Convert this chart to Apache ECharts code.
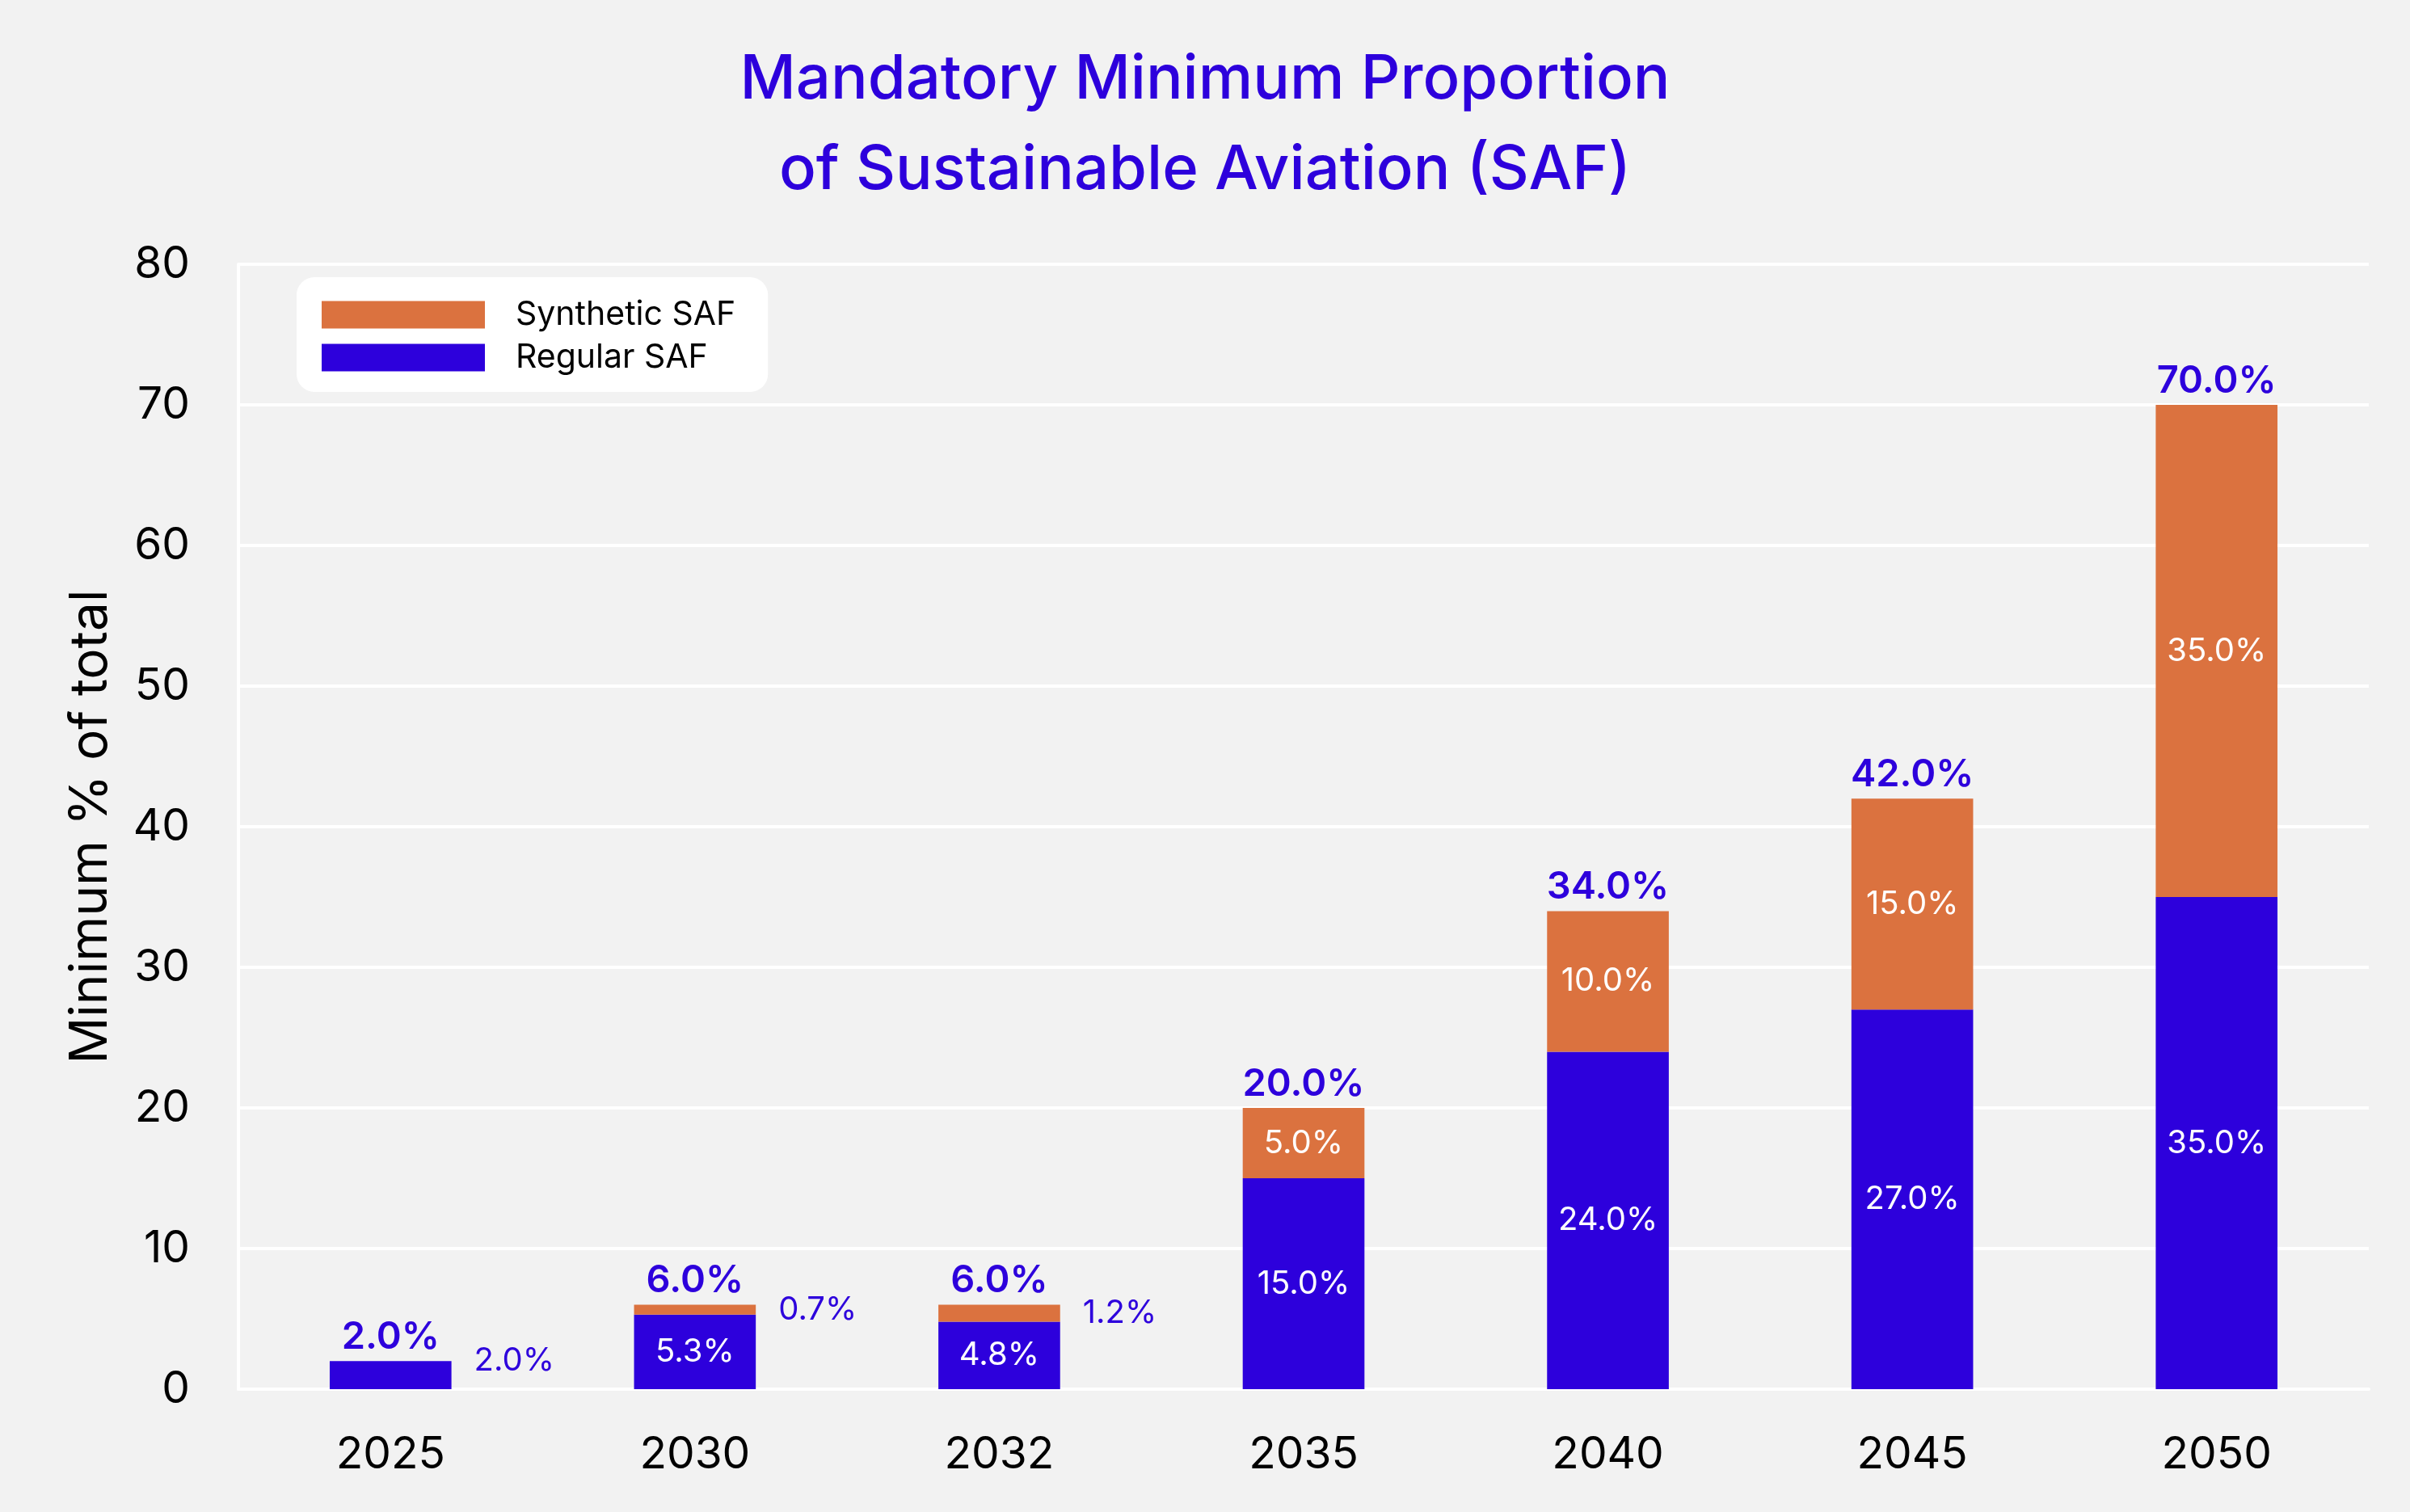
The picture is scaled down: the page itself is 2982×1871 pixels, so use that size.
<!DOCTYPE html>
<html>
<head>
<meta charset="utf-8">
<script src="https://cdn.jsdelivr.net/npm/echarts@6/dist/echarts.min.js"></script>
<style>
  html, body { margin: 0; padding: 0; background: #f2f2f2; }
  #chart { width: 2982px; height: 1871px; }
</style>
</head>
<body>
<div id="chart"></div>
<script>
const years = ['2025', '2030', '2032', '2035', '2040', '2045', '2050'];
const regularSaf = [2.0, 5.3, 4.8, 15.0, 24.0, 27.0, 35.0];
const syntheticSaf = [0, 0.7, 1.2, 5.0, 10.0, 15.0, 35.0];
const totals = [2.0, 6.0, 6.0, 20.0, 34.0, 42.0, 70.0];
const yTicks = { min: 0, max: 80, interval: 10 };

const BLUE = '#2d00dc';
const ORANGE = '#db723f';
const FONT = 'Inter, "Noto Sans", sans-serif';

const pct = v => v.toFixed(1) + '%';

// small segments get their label outside, to the right of the bar
function segment(v, i, lift) {
  if (v === 0) return { value: v, label: { show: false } };
  if (v <= 2) {
    return {
      value: v,
      label: {
        show: true, position: 'right', distance: 28,
        offset: lift ? [0, -18] : [0, 0],
        color: BLUE, fontSize: 40, fontWeight: 400
      }
    };
  }
  return { value: v };
}

const chart = echarts.init(document.getElementById('chart'));
chart.setOption({
  backgroundColor: '#f2f2f2',
  animation: false,
  textStyle: { fontFamily: FONT },
  title: {
    text: 'Mandatory Minimum Proportion\nof Sustainable Aviation (SAF)',
    left: 'center',
    top: 38,
    textStyle: { color: BLUE, fontSize: 76, fontWeight: 500, lineHeight: 112, fontFamily: FONT }
  },
  legend: {
    data: ['Synthetic SAF', 'Regular SAF'],
    orient: 'vertical',
    left: 367,
    top: 343,
    icon: 'rect',
    itemWidth: 202,
    itemHeight: 34,
    itemGap: 12,
    padding: [26, 40, 22, 31],
    backgroundColor: '#ffffff',
    borderRadius: 22,
    textStyle: { fontSize: 41, color: '#000', padding: [0, 0, 0, 33], fontFamily: FONT }
  },
  grid: { left: 295, right: 51, top: 327, bottom: 152 },
  xAxis: {
    type: 'category',
    data: years,
    axisLine: { lineStyle: { color: '#ffffff', width: 4 } },
    axisTick: { show: false },
    axisLabel: { color: '#000', fontSize: 55, margin: 54, fontFamily: FONT }
  },
  yAxis: {
    type: 'value',
    min: yTicks.min,
    max: yTicks.max,
    interval: yTicks.interval,
    name: 'Minimum % of total',
    nameLocation: 'middle',
    nameGap: 150,
    nameTextStyle: { color: '#000', fontSize: 64, fontFamily: FONT },
    axisLine: { show: true, lineStyle: { color: '#ffffff', width: 4 } },
    axisTick: { show: false },
    axisLabel: { color: '#000', fontSize: 55, margin: 60, fontFamily: FONT },
    splitLine: { lineStyle: { color: '#ffffff', width: 4 } }
  },
  series: [
    {
      name: 'Regular SAF',
      type: 'bar',
      stack: 'saf',
      barWidth: '40%',
      itemStyle: { color: BLUE },
      label: {
        show: true, position: 'inside', color: '#fff', fontSize: 40, fontWeight: 400,
        formatter: p => pct(p.value)
      },
      data: regularSaf.map((v, i) => segment(v, i, true))
    },
    {
      name: 'Synthetic SAF',
      type: 'bar',
      stack: 'saf',
      barWidth: '40%',
      itemStyle: { color: ORANGE },
      label: {
        show: true, position: 'inside', color: '#fff', fontSize: 40, fontWeight: 400,
        formatter: p => pct(p.value)
      },
      data: syntheticSaf.map((v, i) => segment(v, i, false))
    },
    {
      name: 'Total',
      type: 'bar',
      stack: 'saf',
      barWidth: '40%',
      itemStyle: { color: 'rgba(0,0,0,0)' },
      label: {
        show: true, position: 'top', distance: 6, color: BLUE, fontSize: 47, fontWeight: 600,
        formatter: p => pct(totals[p.dataIndex])
      },
      data: totals.map(() => 0)
    }
  ]
});
</script>
</body>
</html>
